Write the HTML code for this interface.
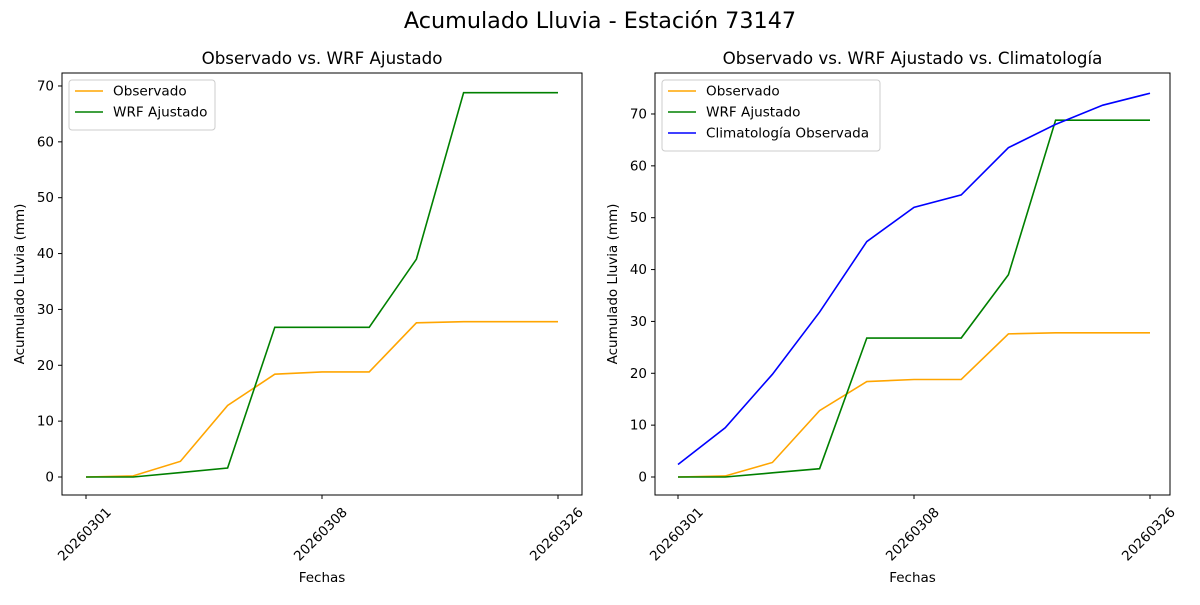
<!DOCTYPE html>
<html><head><meta charset="utf-8"><style>
body{margin:0;background:#fff;}
svg text{font-family:"DejaVu Sans","Liberation Sans",sans-serif;fill:#000;}
</style></head><body>
<svg id="s" width="1200" height="600" xmlns="http://www.w3.org/2000/svg">
<rect width="1200" height="600" fill="#fff"/>
<text x="600" y="28" font-size="22.3" text-anchor="middle">Acumulado Lluvia - Estación 73147</text>
</svg>
<script>
const s=document.getElementById('s');let h='';
const obs=[0,0.2,2.8,12.8,18.4,18.8,18.8,27.6,27.8,27.8,27.8];
const wrf=[0,0,0.8,1.6,26.8,26.8,26.8,39,68.8,68.8,68.8];
const cli=[2.4,9.5,19.8,31.8,45.4,52,54.4,63.5,68,71.7,74];
function panel(L,R,T,B,x0,y0,per10,ymax,title,series,leg){
 const X=i=>x0+i*47.2, Y=v=>y0-v*per10/10;
 h+=`<text x="${(L+R)/2}" y="64" font-size="16.7" text-anchor="middle">${title}</text>`;
 for(let v=0;v<=ymax;v+=10){const y=Y(v);h+=`<line x1="${L-4}" x2="${L}" y1="${y}" y2="${y}" stroke="#000"/><text x="${L-8}" y="${y+4.5}" font-size="13.5" text-anchor="end">${v}</text>`;}
 [[0,'20260301'],[5,'20260308'],[10,'20260326']].forEach(([i,t])=>{const x=X(i);h+=`<line x1="${x}" x2="${x}" y1="${B}" y2="${B+4}" stroke="#000"/><text transform="translate(${x+26},${B+18}) rotate(-45)" font-size="13.5" text-anchor="end">${t}</text>`;});
 series.forEach(([d,c])=>{h+=`<polyline fill="none" stroke="${c}" stroke-width="1.6" points="${d.map((v,i)=>X(i)+','+Y(v)).join(' ')}"/>`;});
 h+=`<rect x="${L}" y="${T}" width="${R-L}" height="${B-T}" fill="none" stroke="#000" stroke-width="1"/>`;
 h+=`<text x="${(L+R)/2}" y="582" font-size="13.5" text-anchor="middle">Fechas</text>`;
 h+=`<text transform="translate(${L-38},${(T+B)/2}) rotate(-90)" font-size="13.5" text-anchor="middle">Acumulado Lluvia (mm)</text>`;
 const lw=leg.w,lh=8+leg.items.length*21;
 h+=`<rect x="${L+7}" y="80" width="${lw}" height="${lh}" rx="3" fill="#fff" stroke="#ccc"/>`;
 leg.items.forEach(([t,c],k)=>{const y=91+k*21;h+=`<line x1="${L+13}" x2="${L+41}" y1="${y}" y2="${y}" stroke="${c}" stroke-width="1.6"/><text x="${L+51}" y="${y+4.5}" font-size="13.6">${t}</text>`;});
}
panel(62,582,73,495,86,477,55.86,70,'Observado vs. WRF Ajustado',[[obs,'orange'],[wrf,'green']],{w:146,items:[['Observado','orange'],['WRF Ajustado','green']]});
panel(655,1170,73,495,678,477,51.86,70,'Observado vs. WRF Ajustado vs. Climatología',[[obs,'orange'],[wrf,'green'],[cli,'blue']],{w:218,items:[['Observado','orange'],['WRF Ajustado','green'],['Climatología Observada','blue']]});
s.insertAdjacentHTML('beforeend',h);
</script>
</body></html>
